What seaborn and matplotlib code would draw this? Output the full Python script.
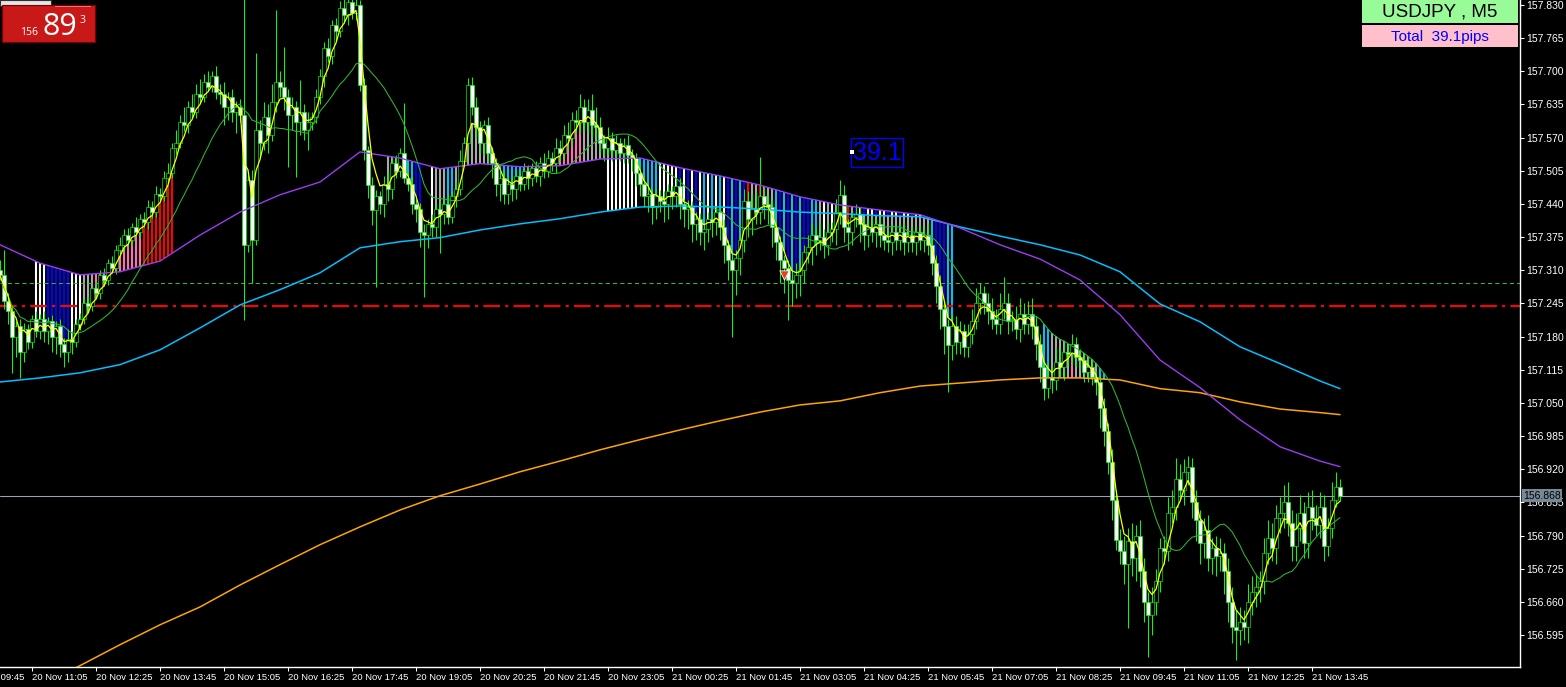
import numpy as np
import pandas as pd
import matplotlib
matplotlib.use("Agg")
import matplotlib.pyplot as plt
import matplotlib.transforms as mtransforms
from matplotlib.patches import Rectangle
import seaborn as sns

# USDJPY M5, close of each bar, in points (0.001) above 157.000
closes = [
    300, 250, 230, 180, 200, 150, 195, 170, 215, 190,
    215, 190, 210, 180, 200, 165, 150, 175, 170, 205,
    215, 245, 240, 275, 265, 300, 290, 325, 315, 350,
    360, 380, 370, 395, 385, 410, 405, 435, 425, 460,
    455, 490, 500, 550, 560, 600, 595, 630, 620, 655,
    650, 680, 670, 690, 660, 655, 630, 650, 620, 630,
    615, 360, 487, 370, 585, 560, 610, 575, 640, 680,
    670, 650, 615, 630, 600, 620, 585, 600, 610, 650,
    690, 745, 730, 790, 780, 825, 810, 835, 815, 830,
    674, 546, 477, 428, 455, 440, 480, 470, 520, 505,
    540, 491, 480, 440, 430, 385, 379, 400, 395, 430,
    420, 440, 415, 455, 470, 525, 560, 674, 630, 590,
    560, 595, 540, 520, 480, 490, 460, 480, 470, 495,
    480, 505, 490, 510, 495, 520, 505, 530, 520, 550,
    540, 575, 570, 605, 600, 630, 600, 625, 595, 590,
    560, 550, 570, 545, 560, 540, 555, 535, 530, 500,
    480, 455, 460, 435, 455, 445, 440, 465, 455, 475,
    440, 430, 435, 400, 410, 385, 390, 410, 405, 425,
    395, 360, 330, 311, 335, 370, 445, 410, 430, 425,
    455, 440, 435, 395, 365, 330, 315, 290, 285, 300,
    310, 345, 355, 380, 370, 375, 360, 385, 390, 425,
    458, 395, 385, 415, 420, 400, 380, 395, 385, 400,
    380, 370, 365, 385, 370, 385, 365, 380, 365, 385,
    370, 380, 360, 325, 280, 235, 200, 164, 200, 170,
    190, 160, 185, 210, 245, 265, 245, 230, 215, 205,
    235, 245, 210, 215, 195, 225, 205, 225, 200, 165,
    120, 80, 100, 95, 130, 120, 150, 145, 165, 140,
    135, 110, 120, 100, 90, 40, -5, -65, -140, -218,
    -240, -265, -220, -255, -210, -280, -340, -365, -340, -300,
    -235, -240, -165, -155, -100, -120, -85, -75, -145, -180,
    -225, -200, -255, -235, -250, -245, -280, -340, -390, -395,
    -380, -390, -340, -320, -310, -300, -245, -215, -235, -175,
    -165, -145, -185, -230, -195, -165, -225, -155, -175, -190,
    -155, -230, -195, -140, -115, -132,
]
first_open = 310

# wick lengths above / below the candle body, points
wick_up = [
    20, 50, 15, 12, 10, 15, 12, 10, 8, 15,
    10, 15, 8, 12, 10, 15, 12, 20, 15, 10,
    12, 10, 15, 8, 12, 10, 15, 8, 12, 10,
    15, 10, 12, 8, 20, 10, 15, 12, 10, 15,
    12, 15, 20, 10, 25, 15, 30, 12, 25, 20,
    30, 15, 20, 10, 20, 15, 25, 10, 15, 12,
    15, 260, 10, 20, 151, 20, 30, 25, 35, 140,
    20, 78, 15, 20, 12, 63, 15, 20, 10, 15,
    15, 12, 20, 10, 15, 12, 20, 15, 10, 15,
    10, 12, 8, 15, 12, 10, 15, 25, 12, 15,
    10, 98, 12, 15, 10, 12, 15, 10, 20, 12,
    15, 12, 20, 10, 15, 20, 12, 13, 15, 20,
    12, 10, 15, 12, 10, 15, 12, 10, 15, 12,
    10, 15, 12, 10, 15, 12, 20, 15, 12, 20,
    15, 20, 25, 15, 20, 25, 15, 20, 30, 35,
    20, 15, 20, 12, 15, 10, 15, 20, 12, 10,
    12, 15, 20, 10, 15, 12, 20, 15, 10, 15,
    15, 10, 12, 10, 15, 12, 10, 15, 12, 10,
    12, 15, 10, 20, 15, 12, 25, 20, 30, 35,
    77, 20, 15, 12, 10, 12, 10, 15, 20, 25,
    20, 15, 25, 20, 15, 30, 15, 20, 15, 25,
    29, 20, 15, 12, 20, 15, 12, 15, 20, 12,
    15, 12, 20, 15, 12, 15, 20, 12, 15, 12,
    12, 15, 20, 12, 15, 20, 12, 15, 25, 20,
    20, 15, 20, 25, 30, 20, 15, 20, 25, 20,
    30, 52, 20, 15, 25, 30, 20, 25, 30, 20,
    20, 15, 25, 20, 30, 25, 20, 15, 20, 15,
    15, 12, 20, 15, 12, 15, 20, 15, 25, 20,
    20, 30, 25, 35, 20, 30, 25, 20, 30, 25,
    20, 25, 30, 35, 42, 30, 25, 20, 17, 25,
    20, 25, 30, 20, 25, 30, 20, 25, 30, 35,
    30, 25, 35, 30, 25, 20, 30, 35, 30, 25,
    30, 35, 40, 25, 30, 35, 20, 30, 35, 25,
    30, 25, 20, 35, 30, 15,
]
wick_dn = [
    10, 15, 25, 71, 40, 51, 20, 15, 12, 10,
    15, 20, 25, 30, 35, 25, 30, 20, 25, 10,
    12, 10, 8, 10, 8, 12, 10, 8, 10, 12,
    10, 12, 15, 10, 8, 12, 10, 15, 12, 10,
    12, 10, 8, 10, 12, 10, 12, 15, 10, 12,
    12, 10, 8, 10, 15, 20, 35, 25, 20, 40,
    15, 147, 15, 85, 10, 30, 15, 35, 12, 20,
    20, 25, 102, 30, 107, 25, 20, 40, 15, 12,
    15, 20, 12, 15, 20, 12, 15, 20, 12, 15,
    12, 20, 25, 30, 151, 20, 25, 25, 20, 15,
    12, 10, 15, 20, 25, 30, 121, 25, 20, 20,
    76, 20, 15, 12, 20, 12, 10, 12, 15, 20,
    20, 25, 20, 30, 25, 35, 20, 20, 25, 20,
    15, 12, 20, 15, 12, 20, 15, 12, 15, 20,
    15, 12, 20, 15, 20, 20, 15, 20, 25, 20,
    20, 25, 15, 20, 12, 15, 20, 15, 25, 25,
    25, 20, 30, 35, 25, 20, 35, 30, 25, 20,
    30, 35, 40, 35, 30, 25, 35, 25, 30, 25,
    25, 35, 40, 131, 50, 35, 25, 35, 30, 25,
    25, 30, 35, 40, 35, 45, 50, 77, 45, 30,
    40, 25, 20, 35, 30, 20, 25, 20, 20, 30,
    25, 30, 35, 25, 20, 35, 30, 25, 20, 30,
    25, 20, 20, 25, 20, 20, 25, 20, 20, 25,
    20, 25, 20, 25, 35, 40, 55, 92, 30, 25,
    25, 20, 20, 20, 15, 20, 20, 25, 20, 20,
    20, 20, 25, 20, 20, 25, 20, 20, 25, 30,
    30, 25, 20, 25, 20, 20, 25, 20, 20, 20,
    20, 20, 20, 15, 25, 40, 30, 25, 40, 20,
    25, 40, 126, 35, 45, 30, 40, 83, 40, 25,
    20, 25, 20, 20, 25, 20, 30, 25, 30, 40,
    40, 30, 25, 30, 40, 30, 45, 40, 30, 59,
    30, 25, 30, 25, 30, 30, 25, 20, 25, 30,
    30, 30, 25, 30, 30, 25, 30, 30, 25, 20,
    25, 30, 20, 20, 15, 10,
]

# slow moving averages read every 10 bars (points above 157.000)
ma_bars = list(range(0, 331, 10)) + [335]
ma_purple = [360, 324, 301, 307, 328, 379, 424, 458, 483, 542,
             530, 509, 519, 513, 515, 528, 530, 511, 495, 477,
             454, 438, 428, 419, 393, 360, 332, 291, 223, 134,
             80, 17, -36, -64, -75]
ma_cyan = [91, 99, 109, 125, 154, 197, 242, 272, 305, 354,
           366, 374, 389, 401, 411, 424, 434, 436, 434, 430,
           424, 421, 417, 415, 395, 377, 360, 340, 307, 244,
           209, 160, 127, 93, 78]
ma_orange = [-545, -505, -465, -424, -385, -350, -307, -267, -228, -193,
             -160, -132, -109, -85, -64, -42, -22, -3, 15, 32,
             46, 54, 70, 83, 89, 95, 99, 99, 95, 78,
             70, 52, 38, 31, 27]

# histogram stripes: (first bar, last bar, colour cycle)
W, BL, GR, PK, RD, CY = "#ffffff", "#0000ff", "#a9a9a9", "#ff6eb4", "#ff0000", "#00bfff"
stripes_fast = [  # between yellow and purple
    (9, 11, [W]), (12, 17, [BL]), (18, 20, [W]), (21, 23, [GR]), (24, 27, [PK, GR]),
    (28, 35, [PK]), (36, 43, [RD]),
    (97, 101, [GR]), (102, 103, [CY]), (104, 105, [BL]), (108, 108, [W]), (109, 111, [GR]),
    (112, 113, [CY]), (114, 114, [GR]), (115, 116, [PK]), (117, 123, [GR]), (124, 131, [CY]),
    (132, 137, [PK, GR]), (138, 145, [PK]), (146, 159, [GR]), (160, 164, [CY]), (165, 169, [W]),
    (170, 175, [BL, W]), (176, 181, [CY, W]), (182, 186, [BL, CY]),
    (187, 193, [RD, GR, GR, RD, PK, GR, GR]), (194, 199, [CY, BL]), (200, 204, [CY, BL, BL, CY, CY]),
    (205, 209, [GR, W]), (210, 214, [BL, PK, RD, GR, BL]), (215, 232, [GR]),
    (233, 238, [CY, BL, BL, BL, CY, CY]),
]
stripes_slow = [  # between purple and cyan
    (152, 159, [W]), (215, 232, [W, BL, W]),
]
stripes_low = [  # between green and orange
    (261, 262, [CY]), (263, 267, [GR]), (268, 268, [PK]), (269, 274, [GR]), (275, 277, [CY]),
]

levels = {"dash": 157.285, "dashdot": 157.239, "bid": 156.868}
arrow_bars = [196]
arrow_prices = [157.300]

sns.set_theme(style="dark", rc={"axes.facecolor": "black", "figure.facecolor": "black"})
plt.rcParams["font.family"] = ["Liberation Sans", "DejaVu Sans"]

bars = np.arange(len(closes))
df = pd.DataFrame({"bar": bars, "close": 157 + np.array(closes) / 1000})
df["open"] = df["close"].shift(1).fillna(157 + first_open / 1000)
df["high"] = df[["open", "close"]].max(axis=1) + np.array(wick_up) / 1000
df["low"] = df[["open", "close"]].min(axis=1) - np.array(wick_dn) / 1000
df["yellow"] = df["close"].ewm(span=4, adjust=False).mean()
df["green"] = df["close"].rolling(17, min_periods=1).mean()

slow = pd.DataFrame({"bar": ma_bars,
                     "purple": 157 + np.array(ma_purple) / 1000,
                     "cyan": 157 + np.array(ma_cyan) / 1000,
                     "orange": 157 + np.array(ma_orange) / 1000})
purple_b = np.interp(bars, slow["bar"], slow["purple"])
cyan_b = np.interp(bars, slow["bar"], slow["cyan"])
orange_b = np.interp(bars, slow["bar"], slow["orange"])

fig = plt.figure(figsize=(15.66, 6.87), dpi=100)
ax = fig.add_axes([0, 20 / 687, 1520 / 1566, 667 / 687])
ax.set_facecolor("black")


def draw_stripes(segs, a, b):
    for b0, b1, cols in segs:
        idx = np.arange(b0, b1 + 1)
        c = [cols[k % len(cols)] for k in range(len(idx))]
        ax.vlines(idx, a[idx], b[idx], colors=c, lw=1.5, zorder=1)


yel = df["yellow"].values
grn = df["green"].values
draw_stripes(stripes_fast, yel, purple_b)
draw_stripes(stripes_slow, purple_b, cyan_b)
draw_stripes(stripes_low, grn, orange_b)

# level lines
ax.axhline(levels["dash"], color="#3cb43c", lw=0.75, dashes=(4, 3), zorder=1.5)
ax.axhline(levels["dashdot"], color="#ff0000", lw=1.5, dashes=(8, 2.5, 1.5, 2.5), zorder=1.5)
ax.axhline(levels["bid"], color="#9aa4ae", lw=0.75, zorder=1.5)

# candles
ax.vlines(df["bar"], df["low"], df["high"], color="#00ff00", lw=0.75, zorder=3)
body_lo = df[["open", "close"]].min(axis=1)
body_h = (df["close"] - df["open"]).abs().clip(lower=0.0012)
fills = np.where(df["close"] < df["open"], "#ffffff", "#000000")
ax.bar(df["bar"], body_h, bottom=body_lo, width=0.8, color=fills,
       edgecolor="#00ff00", linewidth=0.45, zorder=4)

# moving averages
sns.lineplot(data=slow, x="bar", y="orange", ax=ax, color="#ffa500", lw=1.1, zorder=5)
sns.lineplot(data=slow, x="bar", y="cyan", ax=ax, color="#00bfff", lw=1.1, zorder=5)
sns.lineplot(data=slow, x="bar", y="purple", ax=ax, color="#9a3cf0", lw=1.0, zorder=5)
sns.lineplot(data=df, x="bar", y="green", ax=ax, color="#2eb82e", lw=0.75, zorder=5)
sns.lineplot(data=df, x="bar", y="yellow", ax=ax, color="#ffff00", lw=0.9, zorder=6)

ax.scatter(arrow_bars, arrow_prices, marker="v", s=45, color="#e8401c",
           edgecolor="white", linewidth=0.6, zorder=7)

ax.set_xlim(0, 380)
ax.set_ylim(156.5323, 157.8398)

# axes styling
for s in ["top", "left"]:
    ax.spines[s].set_visible(False)
for s in ["right", "bottom"]:
    ax.spines[s].set_visible(True)
    ax.spines[s].set_color("white")
    ax.spines[s].set_linewidth(1)
ax.grid(False)
ax.set_xlabel("")
ax.set_ylabel("")

yt = [157.830 - 0.065 * k for k in range(20)]
ax.yaxis.tick_right()
ax.set_yticks(yt)
ax.set_yticklabels([f"{v:.3f}" for v in yt])
ax.tick_params(axis="y", colors="white", labelsize=7.5, length=3, width=0.75, pad=1.5,
               right=True, left=False, labelright=True, labelleft=False)

times = pd.date_range("2024-11-20 09:45", periods=22, freq="80min")
tick_b = [-8 + 16 * k for k in range(22)]
ax.set_xticks(tick_b[1:])
ax.set_xticklabels([t.strftime("%d %b %H:%M") for t in times[1:]], ha="left")
ax.tick_params(axis="x", colors="white", labelsize=6.8, length=3, width=0.75, pad=1,
               bottom=True, labelbottom=True)
ax.annotate(times[0].strftime("%d %b %H:%M"), xy=(tick_b[0], 0),
            xycoords=("data", "axes fraction"), xytext=(0, -4), textcoords="offset points",
            color="white", fontsize=6.8, ha="left", va="top", annotation_clip=False)

# current price tag
tr = mtransforms.blended_transform_factory(ax.transAxes, ax.transData)
ax.text(1.002, levels["bid"], f"{levels['bid']:.3f}", transform=tr, color="black", fontsize=7.5,
        ha="left", va="center", zorder=10, clip_on=False,
        bbox=dict(boxstyle="square,pad=0.12", fc="#778899", ec="none"))


W_PX, H_PX = 1566, 687


def rect(x0, y0, x1, y1, fc, ec="none", lw=0.8):
    fig.add_artist(Rectangle((x0 / W_PX, 1 - y1 / H_PX), (x1 - x0) / W_PX, (y1 - y0) / H_PX,
                             transform=fig.transFigure, fc=fc, ec=ec, lw=lw, zorder=20))


def ftext(x, y, s, **kw):
    fig.text(x / W_PX, 1 - y / H_PX, s, zorder=21, **kw)


# bid panel top left
rect(0, 0, 51, 6, "#e4e4e4", "#303030")
rect(2, 5, 95, 42, "#c81818", "#7a0000")
rect(55, 6, 91, 7, "#f07070")
ftext(20, 35, "156", color="white", fontsize=7.5, family="Open Sans", va="baseline")
ftext(42, 35, "89", color="white", fontsize=22, family="Open Sans", va="baseline")
ftext(79, 23, "3", color="white", fontsize=7.5, family="Open Sans", va="baseline")

# symbol boxes top right
rect(1362, 0, 1518, 23, "#98fb98")
ftext(1440, 12, "USDJPY , M5", color="black", fontsize=13.5, ha="center", va="center")
rect(1362, 25, 1518, 47, "#ffc0cb")
ftext(1440, 37, "Total  39.1pips", color="#0000ff", fontsize=11, ha="center", va="center")

# pips label
rect(851, 138, 903, 167, "none", "#0000ff", 1.0)
ftext(877, 153, "39.1", color="#0000ff", fontsize=18, ha="center", va="center")
rect(850, 150, 854, 154, "white")

fig.savefig("out.png", dpi=100, facecolor="black")
